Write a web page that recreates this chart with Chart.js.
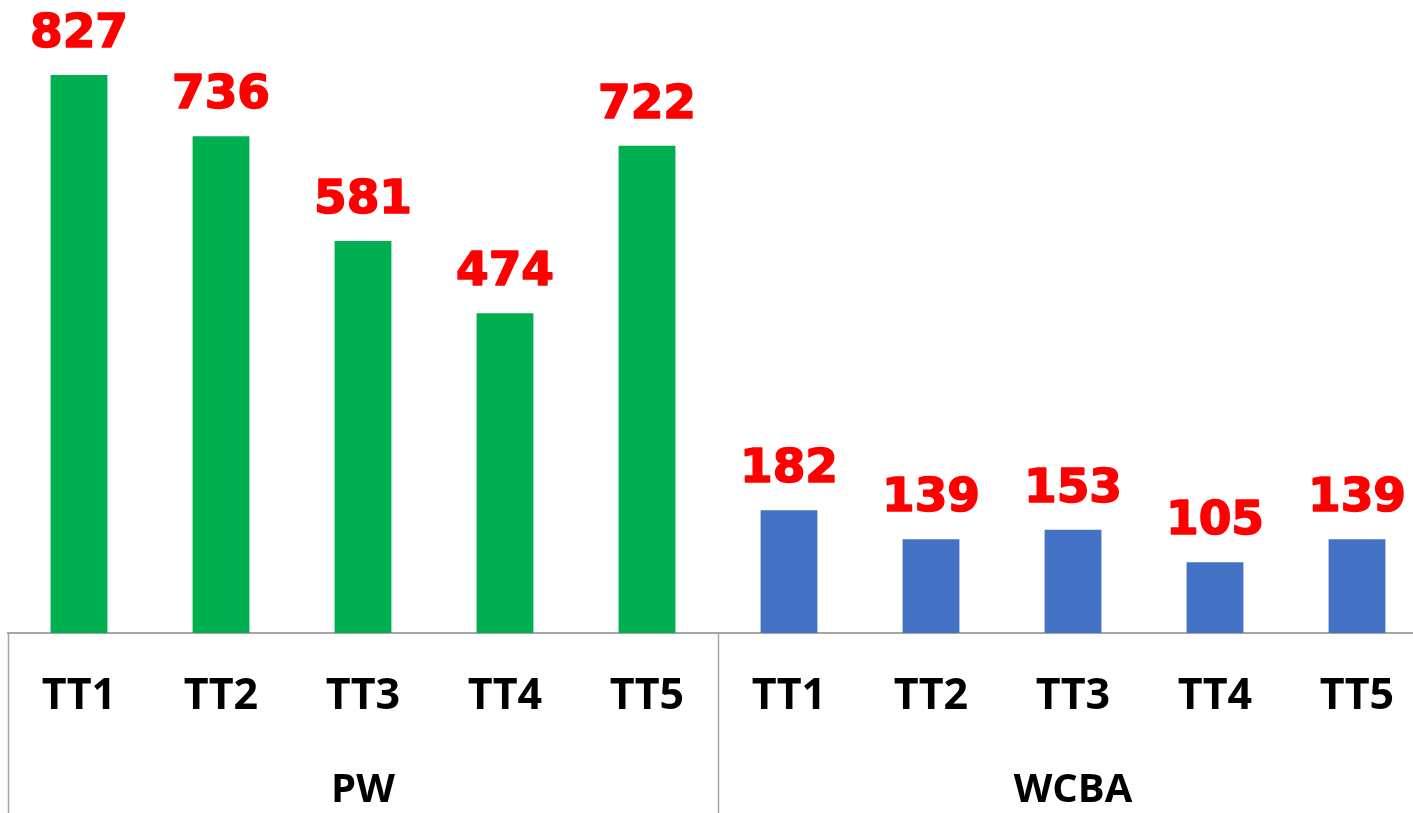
<!DOCTYPE html>
<html>
<head>
<meta charset="utf-8">
<script src="https://cdn.jsdelivr.net/npm/chart.js@4.4.1/dist/chart.umd.min.js"></script>
<style>
  html, body { margin: 0; padding: 0; background: #ffffff; overflow: hidden; }
  #wrap { width: 1428px; height: 813px; }
</style>
</head>
<body>
<div id="wrap"><canvas id="c" width="1428" height="813"></canvas></div>
<script>
const groups = ["PW", "WCBA"];
const subCategories = ["TT1", "TT2", "TT3", "TT4", "TT5"];
const pwValues = [827, 736, 581, 474, 722];
const wcbaValues = [182, 139, 153, 105, 139];

const groupColors = ["#00B050", "#4472C4"];
const labels = groups.flatMap(() => subCategories);
const values = pwValues.concat(wcbaValues);
const colors = pwValues.map(() => groupColors[0]).concat(wcbaValues.map(() => groupColors[1]));

const gridColor = "#A6A6A6";

const overlayPlugin = {
  id: "overlay",
  afterDatasetsDraw(chart) {
    const ctx = chart.ctx;
    const meta = chart.getDatasetMeta(0);
    ctx.save();
    ctx.fillStyle = "#FF0000";
    ctx.strokeStyle = "#FF0000";
    ctx.lineWidth = 1.6;
    ctx.lineJoin = "round";
    ctx.font = "bold 47px 'DejaVu Sans'";
    ctx.textAlign = "center";
    ctx.textBaseline = "alphabetic";
    meta.data.forEach((bar, i) => {
      ctx.fillText(String(values[i]), bar.x, bar.y - 28);
      ctx.strokeText(String(values[i]), bar.x, bar.y - 28);
    });
    ctx.restore();
  },
  afterDraw(chart) {
    const ctx = chart.ctx;
    const x = chart.scales.x;
    const area = chart.chartArea;
    const n = subCategories.length;
    const slot = x.getPixelForValue(1) - x.getPixelForValue(0);
    ctx.save();
    ctx.strokeStyle = gridColor;
    ctx.lineWidth = 1.5;
    for (let g = 0; g <= groups.length; g++) {
      const px = Math.round(x.getPixelForValue(g * n) - slot / 2) + 0.5;
      ctx.beginPath();
      ctx.moveTo(px, area.bottom);
      ctx.lineTo(px, chart.height);
      ctx.stroke();
    }
    ctx.fillStyle = "#000000";
    ctx.font = "bold 40px 'Open Sans'";
    ctx.textAlign = "center";
    ctx.textBaseline = "alphabetic";
    groups.forEach((g, gi) => {
      const cx = (x.getPixelForValue(gi * n) + x.getPixelForValue(gi * n + n - 1)) / 2;
      ctx.fillText(g, cx, 802);
    });
    ctx.restore();
  }
};

new Chart(document.getElementById("c"), {
  type: "bar",
  data: {
    labels: labels,
    datasets: [{
      data: values,
      backgroundColor: colors,
      borderWidth: 0,
      barPercentage: 0.4,
      categoryPercentage: 1.0
    }]
  },
  options: {
    responsive: false,
    devicePixelRatio: 1,
    animation: false,
    layout: { padding: { left: 8, right: 0, top: 0, bottom: 0 } },
    plugins: { legend: { display: false }, tooltip: { enabled: false } },
    scales: {
      x: {
        afterFit(scale) {
          scale.height = 180;
          scale.paddingLeft = 0;
          scale.paddingRight = 0;
        },
        grid: { display: false, drawTicks: false },
        border: { display: true, color: gridColor, width: 2 },
        ticks: {
          color: "#000000",
          font: { family: "'Open Sans'", weight: "bold", size: 43 },
          padding: 38,
          maxRotation: 0,
          autoSkip: false
        }
      },
      y: {
        display: false,
        min: 0,
        max: 938
      }
    }
  },
  plugins: [overlayPlugin]
});
</script>
</body>
</html>
